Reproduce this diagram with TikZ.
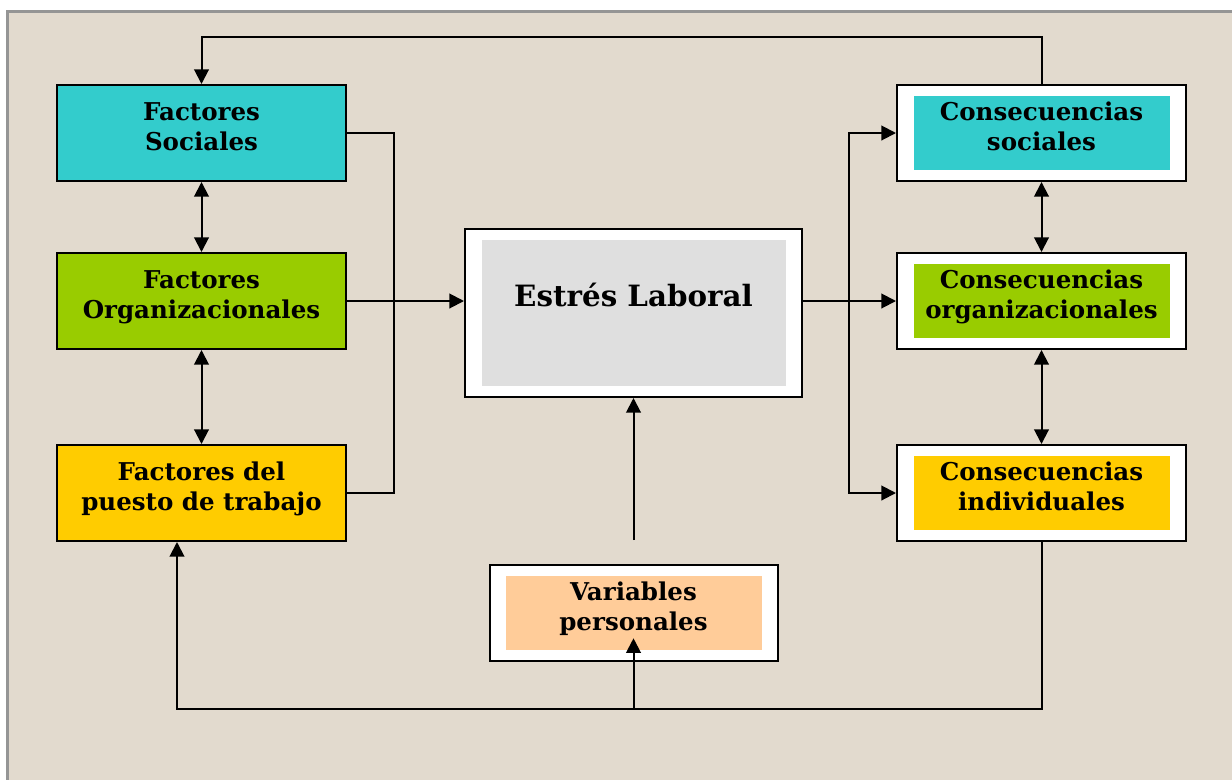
\documentclass[tikz,border=0pt]{standalone}
\usepackage{fontspec}
\setmainfont{DejaVu Serif}
\usetikzlibrary{arrows.meta,calc}
\definecolor{bgc}{HTML}{E2DACE}
\definecolor{framec}{HTML}{959595}
\definecolor{cyanc}{HTML}{33CCCC}
\definecolor{greenc}{HTML}{99CC00}
\definecolor{goldc}{HTML}{FFCC00}
\definecolor{peachc}{HTML}{FFCC99}
\definecolor{grayc}{HTML}{DFDFDF}
\newcommand\twol[2]{\strut #1\\\strut #2}
\begin{document}
\begin{tikzpicture}[x=0.75pt,y=-0.75pt,
  boxtext/.style={font=\fontsize{18.4}{22.5}\selectfont\bfseries, align=center, inner sep=0pt},
  leftbox/.style={draw=black, line width=1.5pt, minimum width=216.75pt, minimum height=72pt, inner sep=0pt},
  outerbox/.style={draw=black, line width=1.5pt, fill=white, inner sep=0pt},
  innerbox/.style={inner sep=0pt, minimum width=192pt, minimum height=55.5pt},
  tip/.tip={Triangle[length=11pt,width=11pt]},
  conn/.style={line width=1.5pt, -tip},
  dconn/.style={line width=1.5pt, tip-tip},
  plainline/.style={line width=1.5pt}
]
\useasboundingbox (0,0) rectangle (1232,779);
\fill[white] (0,0) rectangle (1232,779);
\draw[framec, line width=1.6pt, fill=bgc] (7.5,11.5) rectangle (1245,795);

% left boxes
\node[leftbox, fill=cyanc] (fs) at (201.5,133) {};
\node[boxtext] (fst) at (201.5,129) {\twol{Factores}{Sociales}};
\node[leftbox, fill=greenc] (fo) at (201.5,301) {};
\node[boxtext] (fot) at (201.5,297) {\twol{Factores}{Organizacionales}};
\node[leftbox, fill=goldc] (fp) at (201.5,493) {};
\node[boxtext] (fpt) at (201.5,489) {\twol{Factores del}{puesto de trabajo}};

% right boxes
\node[outerbox, minimum width=216.75pt, minimum height=72pt] (cs) at (1041.5,133) {};
\node[innerbox, fill=cyanc] (csin) at (1041.5,133) {};
\node[boxtext] (cst) at (1041.5,129) {\twol{Consecuencias}{sociales}};
\node[outerbox, minimum width=216.75pt, minimum height=72pt] (co) at (1041.5,301) {};
\node[innerbox, fill=greenc] (coin) at (1041.5,301) {};
\node[boxtext] (cot) at (1041.5,297) {\twol{Consecuencias}{organizacionales}};
\node[outerbox, minimum width=216.75pt, minimum height=72pt] (ci) at (1041.5,493) {};
\node[innerbox, fill=goldc] (ciin) at (1041.5,493) {};
\node[boxtext] (cit) at (1041.5,489) {\twol{Consecuencias}{individuales}};

% centre
\node[outerbox, minimum width=252.75pt, minimum height=126pt] (el) at (633.5,313) {};
\node[inner sep=0pt, minimum width=228pt, minimum height=109.5pt, fill=grayc] (elin) at (633.5,313) {};
\node[font=\fontsize{22}{26}\selectfont\bfseries, inner sep=0pt, anchor=base] (elt) at (633.5,306) {Estrés Laboral};

\node[outerbox, minimum width=216pt, minimum height=72pt] (vp) at (633.5,613) {};
\node[innerbox, fill=peachc] (vpin) at (633.5,613) {};
\node[boxtext] (vpt) at (633.5,609) {\twol{Variables}{personales}};

% connectors
\coordinate (top) at (600,37);
\coordinate (bot) at (633.5,709);
\coordinate (rj) at (849,301);
\draw[conn] (cs.north) |- (top) -| (fs.north);
\draw[dconn] (fs.south) -- (fo.north);
\draw[dconn] (fo.south) -- (fp.north);
\draw[plainline] (fs.east) -- ++(47,0) |- (fp.east);
\draw[conn] (fo.east) -- (el.west |- fo.east);
\draw[conn] (el.east |- co.west) -- (co.west);
\draw[tip-tip, line width=1.5pt] (cs.west) -| (rj) |- (ci.west);
\draw[dconn] (cs.south) -- (co.north);
\draw[dconn] (co.south) -- (ci.north);
\draw[conn] ($(vp.north)+(0,-24)$) -- (el.south);
\draw[conn] (ci.south) |- (bot) -| ($(fp.south)+(-24.5,0)$);
\draw[conn] (bot) -- ($(vpin.south)+(0,-12)$);
\end{tikzpicture}
\end{document}
